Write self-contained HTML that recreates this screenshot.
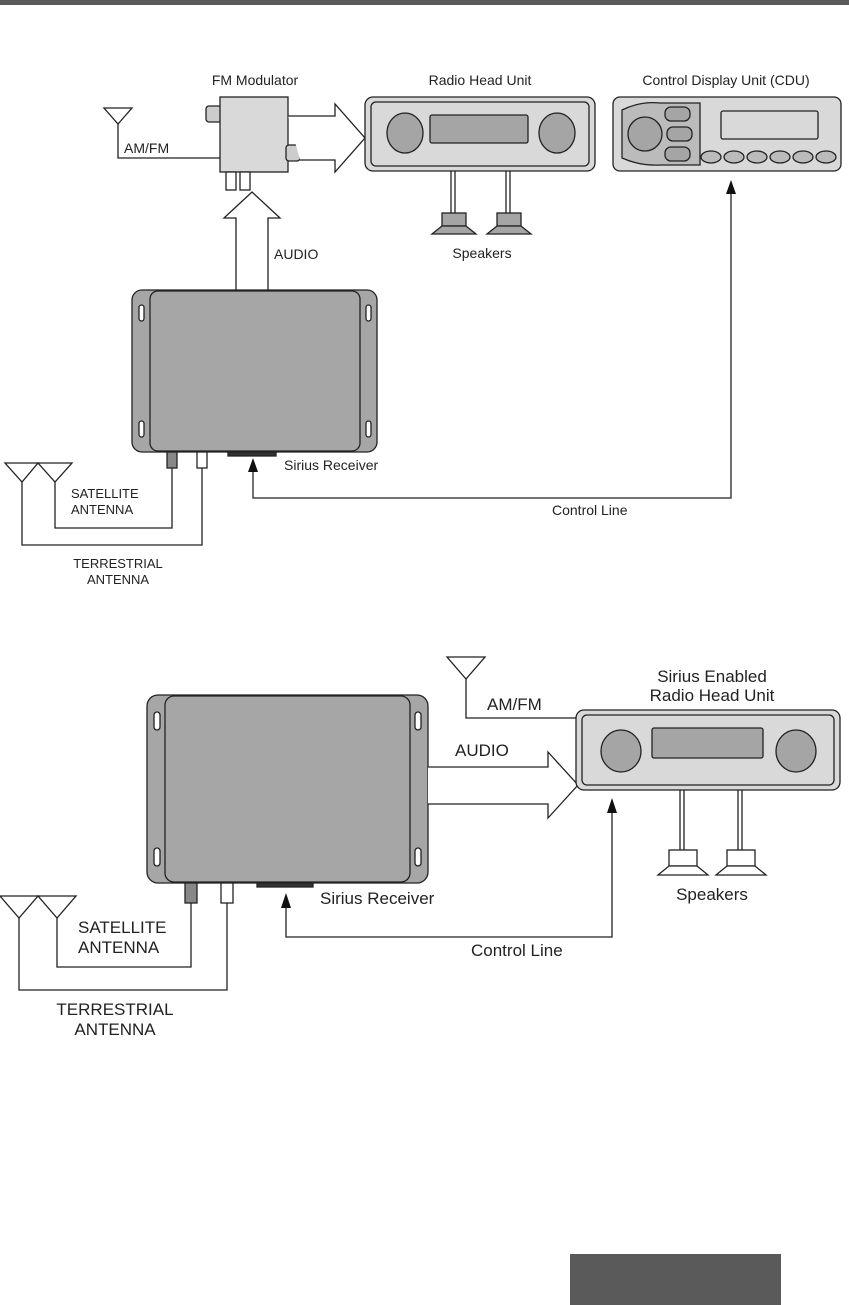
<!DOCTYPE html>
<html><head><style>body{margin:0;background:#fff}svg{display:block}text{font-family:"Liberation Sans",sans-serif;fill:#222}</style></head>
<body>
<svg width="849" height="1305" viewBox="0 0 849 1305" xmlns="http://www.w3.org/2000/svg">
<rect x="0" y="0" width="849" height="5" fill="#5a5a5a"/>
<g stroke="#222" stroke-width="1.3" fill="none">
<polygon points="104,108 132,108 118,124" fill="#fff"/>
<polyline points="118,124 118,158 220,158"/>
<rect x="206" y="106" width="16" height="16" rx="3" fill="#ccc"/>
<rect x="220" y="97" width="68" height="75" fill="#d9d9d9"/>
<rect x="286" y="145" width="14" height="16" rx="3" fill="#ccc"/>
<rect x="226" y="172" width="10" height="18" fill="#fff"/>
<rect x="240" y="172" width="10" height="18" fill="#fff"/>
<polyline points="288,116 335,116 335,104 365,138 335,172 335,160 300,160" fill="#fff"/>
<rect x="365" y="97" width="230" height="74" rx="8" fill="#d9d9d9"/>
<rect x="371" y="102" width="218" height="64" rx="5"/>
<ellipse cx="405" cy="133" rx="18" ry="20" fill="#a5a5a5"/>
<ellipse cx="557" cy="133" rx="18" ry="20" fill="#a5a5a5"/>
<rect x="430" y="115" width="98" height="28" rx="2" fill="#a5a5a5"/>
<line x1="451" y1="171" x2="451" y2="213"/><line x1="455" y1="171" x2="455" y2="213"/>
<line x1="506" y1="171" x2="506" y2="213"/><line x1="510" y1="171" x2="510" y2="213"/>
<rect x="442" y="213" width="24" height="13" fill="#a5a5a5"/>
<polygon points="442,226 466,226 476,234 432,234" fill="#a5a5a5"/>
<rect x="497" y="213" width="24" height="13" fill="#a5a5a5"/>
<polygon points="497,226 521,226 531,234 487,234" fill="#a5a5a5"/>
<rect x="613" y="97" width="228" height="74" rx="7" fill="#d9d9d9"/>
<path d="M622,110 Q640,101 660,103 L700,103 L700,165 L660,165 Q640,166 622,158 Z" fill="#bbb"/>
<circle cx="645" cy="134" r="17" fill="#a5a5a5"/>
<rect x="665" y="107" width="25" height="14" rx="6" fill="#a5a5a5"/>
<rect x="667" y="127" width="25" height="14" rx="6" fill="#a5a5a5"/>
<rect x="665" y="147" width="25" height="14" rx="6" fill="#a5a5a5"/>
<rect x="721" y="111" width="97" height="28" rx="2" fill="#d9d9d9"/>
<ellipse cx="711" cy="157" rx="10" ry="6" fill="#bbb"/><ellipse cx="734" cy="157" rx="10" ry="6" fill="#bbb"/><ellipse cx="757" cy="157" rx="10" ry="6" fill="#bbb"/><ellipse cx="780" cy="157" rx="10" ry="6" fill="#bbb"/><ellipse cx="803" cy="157" rx="10" ry="6" fill="#bbb"/><ellipse cx="826" cy="157" rx="10" ry="6" fill="#bbb"/>
<polyline points="236,293 236,218 224,218 252,192 280,218 268,218 268,293" fill="#fff"/>
<rect x="132" y="290" width="245" height="162" rx="10" fill="#a6a6a6"/>
<rect x="150" y="291" width="210" height="160" rx="8"/>
<rect x="139" y="305" width="5" height="16" rx="2.5" fill="#fff"/><rect x="139" y="421" width="5" height="16" rx="2.5" fill="#fff"/>
<rect x="366" y="305" width="5" height="16" rx="2.5" fill="#fff"/><rect x="366" y="421" width="5" height="16" rx="2.5" fill="#fff"/>
<rect x="167" y="452" width="10" height="16" fill="#888"/>
<rect x="197" y="452" width="10" height="16" fill="#fff"/>
<rect x="228" y="452" width="48" height="4" fill="#333"/>
<polygon points="5,463 38,463 22,482" fill="#fff"/>
<polygon points="38,463 72,463 55,482" fill="#fff"/>
<polyline points="55,482 55,528 172,528 172,468"/>
<polyline points="22,482 22,545 202,545 202,468"/>
<polyline points="253,468 253,498 731,498 731,190"/>
<rect x="147" y="695" width="281" height="188" rx="11" fill="#a6a6a6"/>
<rect x="165" y="696" width="245" height="186" rx="9"/>
<rect x="154" y="712" width="6" height="18" rx="3" fill="#fff"/><rect x="154" y="848" width="6" height="18" rx="3" fill="#fff"/>
<rect x="415" y="712" width="6" height="18" rx="3" fill="#fff"/><rect x="415" y="848" width="6" height="18" rx="3" fill="#fff"/>
<rect x="185" y="883" width="12" height="20" fill="#888"/>
<rect x="221" y="883" width="12" height="20" fill="#fff"/>
<rect x="257" y="883" width="56" height="4" fill="#333"/>
<polygon points="0,896 38,896 19,918" fill="#fff"/>
<polygon points="38,896 76,896 57,918" fill="#fff"/>
<polyline points="57,918 57,967 191,967 191,903"/>
<polyline points="19,918 19,990 227,990 227,903"/>
<polyline points="286,908 286,937 612,937 612,812"/>
<polyline points="428,767 548,767 548,752 578,785 548,818 548,804 428,804" fill="#fff"/>
<polygon points="447,657 485,657 466,679" fill="#fff"/>
<polyline points="466,679 466,718 576,718"/>
<rect x="576" y="710" width="264" height="80" rx="8" fill="#d9d9d9"/>
<rect x="582" y="715" width="252" height="70" rx="5"/>
<ellipse cx="621" cy="751" rx="20" ry="21" fill="#a5a5a5"/>
<ellipse cx="796" cy="751" rx="20" ry="21" fill="#a5a5a5"/>
<rect x="652" y="728" width="111" height="30" rx="2" fill="#a5a5a5"/>
<line x1="680" y1="790" x2="680" y2="850"/><line x1="684" y1="790" x2="684" y2="850"/>
<line x1="738" y1="790" x2="738" y2="850"/><line x1="742" y1="790" x2="742" y2="850"/>
<rect x="669" y="850" width="28" height="16" fill="#fff"/>
<polygon points="669,866 697,866 708,875 658,875" fill="#fff"/>
<rect x="727" y="850" width="28" height="16" fill="#fff"/>
<polygon points="727,866 755,866 766,875 716,875" fill="#fff"/>
</g>
<g fill="#111">
<polygon points="731,180 726,194 736,194"/>
<polygon points="253,458 248,472 258,472"/>
<polygon points="286,893 281,908 291,908"/>
<polygon points="612,798 607,813 617,813"/>
</g>
<g font-size="14">
<text x="255" y="85" text-anchor="middle">FM Modulator</text>
<text x="480" y="85" text-anchor="middle">Radio Head Unit</text>
<text x="726" y="85" text-anchor="middle">Control Display Unit (CDU)</text>
<text x="124" y="153">AM/FM</text>
<text x="274" y="259">AUDIO</text>
<text x="482" y="258" text-anchor="middle">Speakers</text>
<text x="284" y="470">Sirius Receiver</text>
<text x="552" y="515">Control Line</text>
</g>
<g font-size="13">
<text x="71" y="498">SATELLITE</text>
<text x="71" y="514">ANTENNA</text>
<text x="118" y="568" text-anchor="middle">TERRESTRIAL</text>
<text x="118" y="584" text-anchor="middle">ANTENNA</text>
</g>
<g font-size="17">
<text x="712" y="682" text-anchor="middle">Sirius Enabled</text>
<text x="712" y="701" text-anchor="middle">Radio Head Unit</text>
<text x="487" y="710">AM/FM</text>
<text x="455" y="756">AUDIO</text>
<text x="712" y="900" text-anchor="middle">Speakers</text>
<text x="320" y="904">Sirius Receiver</text>
<text x="471" y="956">Control Line</text>
<text x="78" y="933">SATELLITE</text>
<text x="78" y="953">ANTENNA</text>
<text x="115" y="1015" text-anchor="middle">TERRESTRIAL</text>
<text x="115" y="1035" text-anchor="middle">ANTENNA</text>
</g>
<rect x="570" y="1254" width="211" height="51" fill="#5a5a5a"/>
</svg>
</body></html>
